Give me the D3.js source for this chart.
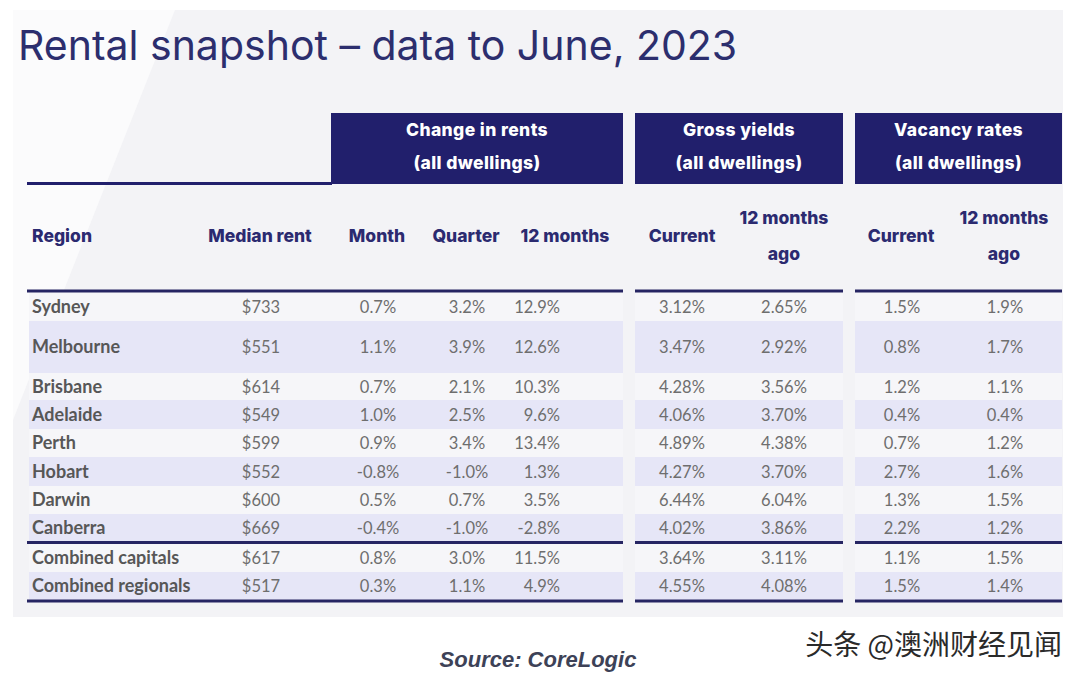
<!DOCTYPE html>
<html><head><meta charset="utf-8">
<script src="https://cdn.jsdelivr.net/npm/d3@7"></script>
<style>
html,body{margin:0;padding:0;background:#fff;}
svg{display:block;}
</style></head>
<body>
<svg id="chart" width="1080" height="677"></svg>
<script>
// ---------------- DATA ----------------
const title = "Rental snapshot \u2013 data to June, 2023";
const source = "Source: CoreLogic";
const watermark = "头条 @澳洲财经见闻";
const groupLabels = ["Change in rents", "Gross yields", "Vacancy rates"];
const groupSubLabel = "(all dwellings)";
const columnLabels = ["Region", "Median rent", "Month", "Quarter", "12 months", "Current", "12 months ago", "Current", "12 months ago"];
const regions = ["Sydney", "Melbourne", "Brisbane", "Adelaide", "Perth", "Hobart", "Darwin", "Canberra", "Combined capitals", "Combined regionals"];
const medianRent = [733, 551, 614, 549, 599, 552, 600, 669, 617, 517];
const rentMonth = [0.7, 1.1, 0.7, 1.0, 0.9, -0.8, 0.5, -0.4, 0.8, 0.3];
const rentQuarter = [3.2, 3.9, 2.1, 2.5, 3.4, -1.0, 0.7, -1.0, 3.0, 1.1];
const rent12m = [12.9, 12.6, 10.3, 9.6, 13.4, 1.3, 3.5, -2.8, 11.5, 4.9];
const yieldCurrent = [3.12, 3.47, 4.28, 4.06, 4.89, 4.27, 6.44, 4.02, 3.64, 4.55];
const yieldAgo = [2.65, 2.92, 3.56, 3.70, 4.38, 3.70, 6.04, 3.86, 3.11, 4.08];
const vacancyCurrent = [1.5, 0.8, 1.2, 0.4, 0.7, 2.7, 1.3, 2.2, 1.1, 1.5];
const vacancyAgo = [1.9, 1.7, 1.1, 0.4, 1.2, 1.6, 1.5, 1.2, 1.5, 1.4];

// ---------------- LAYOUT ----------------
const navy = "#211f6c";
const headNavy = "#2b2a70";
const rowHeights = [29, 52, 27, 29, 28, 29, 28, 28, 28, 28];
const rowGapAfter = {7: 2}; // separator line after Canberra
const tableTop = 292;
const groupSpans = [[29, 623], [635, 843], [855, 1062]];
const colX = [32, 261, 378, 467, 560, 682, 784, 902, 1005];
const colAnchor = ["start", "middle", "middle", "middle", "end", "middle", "middle", "middle", "middle"];
const headX = [32, 260, 377, 466, 565, 682, 784, 901, 1004];

const pct1 = v => (v < 0 ? "-" : "") + Math.abs(v).toFixed(1) + "%";
const pct2 = v => (v < 0 ? "-" : "") + Math.abs(v).toFixed(2) + "%";
const dollars = v => "$" + v;

const columns = [
  {vals: regions, fmt: d => d},
  {vals: medianRent, fmt: dollars},
  {vals: rentMonth, fmt: pct1},
  {vals: rentQuarter, fmt: pct1},
  {vals: rent12m, fmt: pct1},
  {vals: yieldCurrent, fmt: pct2},
  {vals: yieldAgo, fmt: pct2},
  {vals: vacancyCurrent, fmt: pct1},
  {vals: vacancyAgo, fmt: pct1}
];

// y positions via cumulative row heights
let acc = tableTop;
const rowTop = [];
rowHeights.forEach((h, i) => { rowTop.push(acc); acc += h + (rowGapAfter[i] || 0); });
const yTop = d3.scaleOrdinal().domain(regions).range(rowTop);
const yH = d3.scaleOrdinal().domain(regions).range(rowHeights);
const xCol = d3.scaleOrdinal().domain(d3.range(columns.length)).range(colX);

const svg = d3.select("#chart");

// background panel
svg.append("rect").attr("x", 0).attr("y", 0).attr("width", 1080).attr("height", 677).attr("fill", "#ffffff");
svg.append("rect").attr("x", 13).attr("y", 10).attr("width", 1050).attr("height", 607).attr("fill", "#f3f3f6");
svg.append("path").attr("d", "M13,10 L175,10 L60,300 L13,420 Z").attr("fill", "#fbfbfc");

// title
svg.append("text").attr("x", 18).attr("y", 60).attr("fill", "#2c2e6e")
  .style("font-family", "Inter, 'Noto Sans', sans-serif").style("font-size", "41px").style("font-weight", 400)
  .text(title);

// group header boxes
const boxX = [[331, 623], [635, 843], [855, 1062]];
boxX.forEach((b, i) => {
  svg.append("rect").attr("x", b[0]).attr("y", 113).attr("width", b[1] - b[0]).attr("height", 71).attr("fill", navy);
  const cx = (b[0] + b[1]) / 2;
  [[groupLabels[i], 136], [groupSubLabel, 169]].forEach(([t, y]) => {
    svg.append("text").attr("x", cx).attr("y", y).attr("text-anchor", "middle").attr("fill", "#fff")
      .style("font-family", "Inter, sans-serif").style("font-size", "17.5px").style("font-weight", 800)
      .style("letter-spacing", "0.4px").text(t);
  });
});
svg.append("line").attr("x1", 27).attr("x2", 332).attr("y1", 183.5).attr("y2", 183.5).attr("stroke", navy).attr("stroke-width", 3);

// column headers
const hdr = svg.append("g").style("font-family", "Inter, sans-serif").style("font-size", "17.5px").style("font-weight", 800).attr("fill", headNavy);
columnLabels.forEach((lab, i) => {
  const anchor = i === 0 ? "start" : "middle";
  if (lab === "12 months ago") {
    hdr.append("text").attr("x", headX[i]).attr("y", 224).attr("text-anchor", anchor).text("12 months");
    hdr.append("text").attr("x", headX[i]).attr("y", 260).attr("text-anchor", anchor).text("ago");
  } else {
    hdr.append("text").attr("x", headX[i]).attr("y", 242).attr("text-anchor", anchor).text(lab);
  }
});

// row bands
const bandColors = ["#f6f6f9", "#e6e6f7"];
regions.forEach((r, i) => {
  groupSpans.forEach(s => {
    svg.append("rect").attr("x", s[0]).attr("y", yTop(r)).attr("width", s[1] - s[0]).attr("height", yH(r))
      .attr("fill", bandColors[i % 2]);
  });
});

// separator lines
const lineYs = [291, yTop(regions[8]) - 1.5, yTop(regions[9]) + yH(regions[9]) + 1];
lineYs.forEach(y => {
  [[27, 623], [635, 843], [855, 1062]].forEach(s => {
    svg.append("line").attr("x1", s[0]).attr("x2", s[1]).attr("y1", y).attr("y2", y).attr("stroke", "#262563").attr("stroke-width", 3);
  });
});

// cells
columns.forEach((c, ci) => {
  svg.append("g").selectAll("text").data(c.vals).join("text")
    .attr("x", xCol(ci))
    .attr("y", (d, i) => yTop(regions[i]) + yH(regions[i]) / 2 + 6)
    .attr("text-anchor", colAnchor[ci])
    .attr("fill", ci === 0 ? "#575757" : "#6e6e6e")
    .style("font-family", "Lato, 'Open Sans', sans-serif")
    .style("font-size", ci === 0 ? "18px" : "16.5px")
    .style("font-weight", ci === 0 ? 700 : 400)
    .text(d => c.fmt(d));
});

// source
svg.append("text").attr("x", 538).attr("y", 667).attr("text-anchor", "middle").attr("fill", "#3d4257")
  .style("font-family", "'Liberation Sans', Arial, sans-serif").style("font-size", "22px")
  .style("font-weight", 700).style("font-style", "italic").text(source);

// watermark
svg.append("text").attr("x", 1062).attr("y", 655).attr("text-anchor", "end").attr("fill", "#2a2a2a")
  .attr("stroke", "#ffffff").attr("stroke-width", 1.5).attr("paint-order", "stroke")
  .style("font-family", "'Noto Sans CJK SC', sans-serif").style("font-size", "28px").style("font-weight", 400)
  .text(watermark);
</script>
</body></html>
